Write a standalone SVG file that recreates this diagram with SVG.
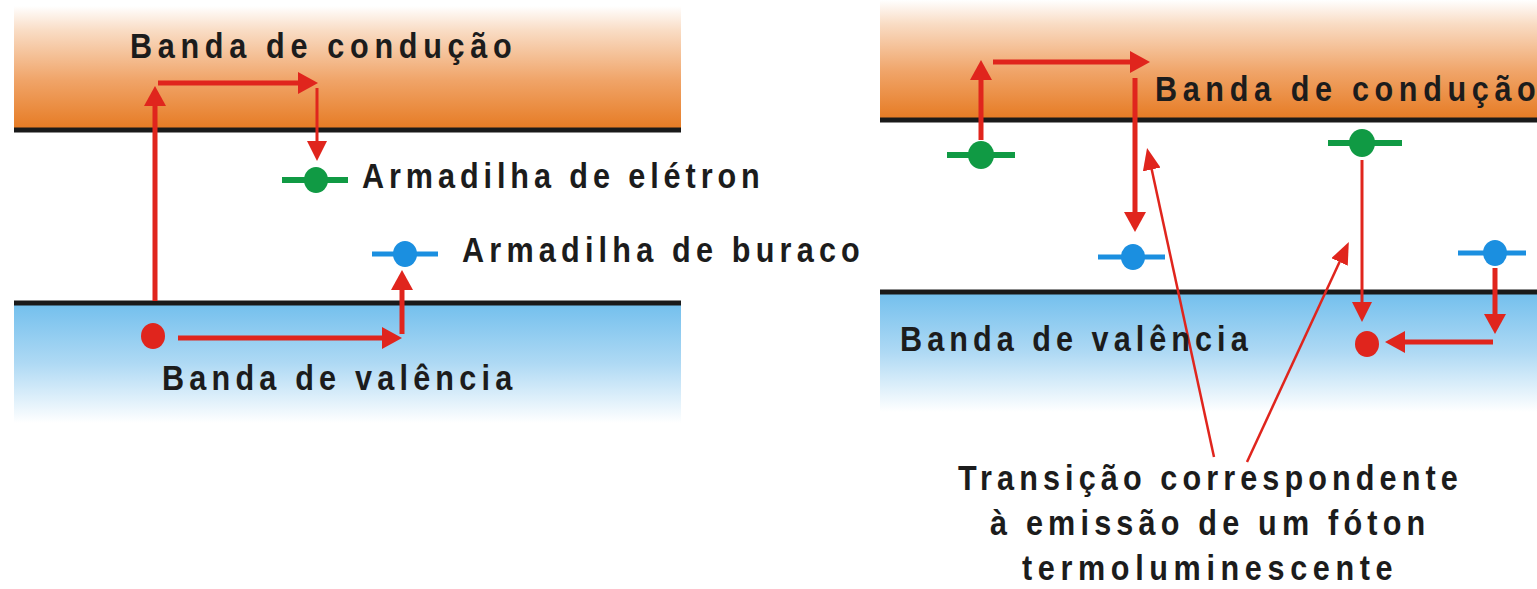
<svg xmlns="http://www.w3.org/2000/svg" width="1537" height="589" viewBox="0 0 1537 589">
<defs>
<linearGradient id="gOr" x1="0" y1="0" x2="0" y2="1">
<stop offset="0" stop-color="#ffffff"/>
<stop offset="0.2" stop-color="#f9dcc4"/>
<stop offset="0.6" stop-color="#f0a468"/>
<stop offset="1" stop-color="#e67a22"/>
</linearGradient>
<linearGradient id="gBl" x1="0" y1="0" x2="0" y2="1">
<stop offset="0" stop-color="#72bfed"/>
<stop offset="0.5" stop-color="#aed9f4"/>
<stop offset="1" stop-color="#ffffff"/>
</linearGradient>
<marker id="ah" markerUnits="userSpaceOnUse" markerWidth="22" markerHeight="22" refX="1" refY="11" orient="auto">
<path d="M0,0 L20,11 L0,22 z" fill="#e0251d"/>
</marker>
<marker id="ahs" markerUnits="userSpaceOnUse" markerWidth="20" markerHeight="20" refX="1" refY="10" orient="auto">
<path d="M0,0 L20,10 L0,20 z" fill="#e0251d"/>
</marker>
<marker id="ahd" markerUnits="userSpaceOnUse" markerWidth="22" markerHeight="18" refX="1" refY="9" orient="auto">
<path d="M0,0 L22,9 L0,18 z" fill="#e0251d"/>
</marker>
<style>
.t{font-family:"Liberation Sans",Arial,sans-serif;font-weight:bold;font-size:36px;fill:#1c1c1c}
.edge{stroke:#1a1a1a;stroke-width:5}
.thick{stroke:#e0251d;stroke-width:5;fill:none;marker-end:url(#ah)}
.thin{stroke:#e0251d;stroke-width:3;fill:none;marker-end:url(#ahs)}
.diag{stroke:#e0251d;stroke-width:2.5;fill:none;marker-end:url(#ahd)}
.gl{stroke:#109a44;stroke-width:6}
.gd{fill:#109a44}
.bl{stroke:#1b8fe0;stroke-width:5}
.bd{fill:#1b8fe0}
.rd{fill:#e0251d}
</style>
</defs>

<g id="bands-left">
<rect x="14" y="6" width="667" height="124" fill="url(#gOr)"/>
<rect x="14" y="303" width="667" height="120" fill="url(#gBl)"/>
<line class="edge" x1="14" y1="130" x2="681" y2="130"/>
<line class="edge" x1="14" y1="303" x2="681" y2="303"/>
</g>
<g id="bands-right">
<rect x="880" y="0" width="657" height="120" fill="url(#gOr)"/>
<rect x="880" y="292" width="657" height="120" fill="url(#gBl)"/>
<line class="edge" x1="880" y1="120" x2="1537" y2="120"/>
<line class="edge" x1="880" y1="292" x2="1537" y2="292"/>
</g>

<g id="connectors">
<line class="thick" x1="155" y1="301" x2="155" y2="105"/>
<line class="thick" x1="158" y1="83" x2="299" y2="83"/>
<line class="thin" x1="317" y1="88" x2="317" y2="142"/>
<line class="thick" x1="178" y1="338" x2="383" y2="338"/>
<line class="thick" x1="402" y1="334" x2="402" y2="289"/>
<line class="thick" x1="981" y1="140" x2="981" y2="79"/>
<line class="thick" x1="993" y1="62" x2="1131" y2="62"/>
<line class="thick" x1="1135" y1="78" x2="1135" y2="213"/>
<line class="thin" x1="1362" y1="160" x2="1362" y2="303"/>
<line class="thick" x1="1495" y1="268" x2="1495" y2="315"/>
<line class="thick" x1="1493" y1="342" x2="1404" y2="342"/>
<line class="diag" x1="1214" y1="457" x2="1151.5" y2="168.5"/>
<line class="diag" x1="1247" y1="462" x2="1340" y2="261"/>
</g>

<g id="left-electron-trap">
<line class="gl" x1="282" y1="180" x2="348" y2="180"/>
<ellipse class="gd" cx="316" cy="180" rx="12" ry="13"/>
<text class="t" transform="translate(362,188) scale(0.85,1)" textLength="468" lengthAdjust="spacing">Armadilha de elétron</text>
</g>
<g id="left-hole-trap">
<line class="bl" x1="372" y1="254" x2="438" y2="254"/>
<ellipse class="bd" cx="405" cy="254" rx="12" ry="13"/>
<text class="t" transform="translate(462,262) scale(0.85,1)" textLength="468" lengthAdjust="spacing">Armadilha de buraco</text>
</g>
<g id="left-hole">
<ellipse class="rd" cx="153" cy="336" rx="12" ry="13"/>
</g>
<g id="left-conduction-label">
<text class="t" transform="translate(130,58) scale(0.85,1)" textLength="449" lengthAdjust="spacing">Banda de condução</text>
</g>
<g id="left-valence-label">
<text class="t" transform="translate(162,390) scale(0.85,1)" textLength="412" lengthAdjust="spacing">Banda de valência</text>
</g>

<g id="right-electron-trap-1">
<line class="gl" x1="947" y1="155" x2="1015" y2="155"/>
<ellipse class="gd" cx="981" cy="155" rx="13" ry="14"/>
</g>
<g id="right-hole-trap-1">
<line class="bl" x1="1098" y1="257" x2="1165" y2="257"/>
<ellipse class="bd" cx="1133" cy="257" rx="12" ry="13"/>
</g>
<g id="right-electron-trap-2">
<line class="gl" x1="1328" y1="143" x2="1402" y2="143"/>
<ellipse class="gd" cx="1362" cy="143" rx="13" ry="14"/>
</g>
<g id="right-hole-trap-2">
<line class="bl" x1="1458" y1="253" x2="1526" y2="253"/>
<ellipse class="bd" cx="1495" cy="253" rx="12" ry="13"/>
</g>
<g id="right-hole">
<ellipse class="rd" cx="1367" cy="344" rx="12" ry="13"/>
</g>
<g id="right-conduction-label">
<text class="t" transform="translate(1155,101) scale(0.85,1)" textLength="448" lengthAdjust="spacing">Banda de condução</text>
</g>
<g id="right-valence-label">
<text class="t" transform="translate(900,351) scale(0.85,1)" textLength="409" lengthAdjust="spacing">Banda de valência</text>
</g>
<g id="transition-label">
<text class="t" transform="translate(958,490) scale(0.85,1)" textLength="588" lengthAdjust="spacing">Transição correspondente</text>
<text class="t" transform="translate(990,535) scale(0.85,1)" textLength="512" lengthAdjust="spacing">à emissão de um fóton</text>
<text class="t" transform="translate(1022,580) scale(0.85,1)" textLength="436" lengthAdjust="spacing">termoluminescente</text>
</g>
</svg>
